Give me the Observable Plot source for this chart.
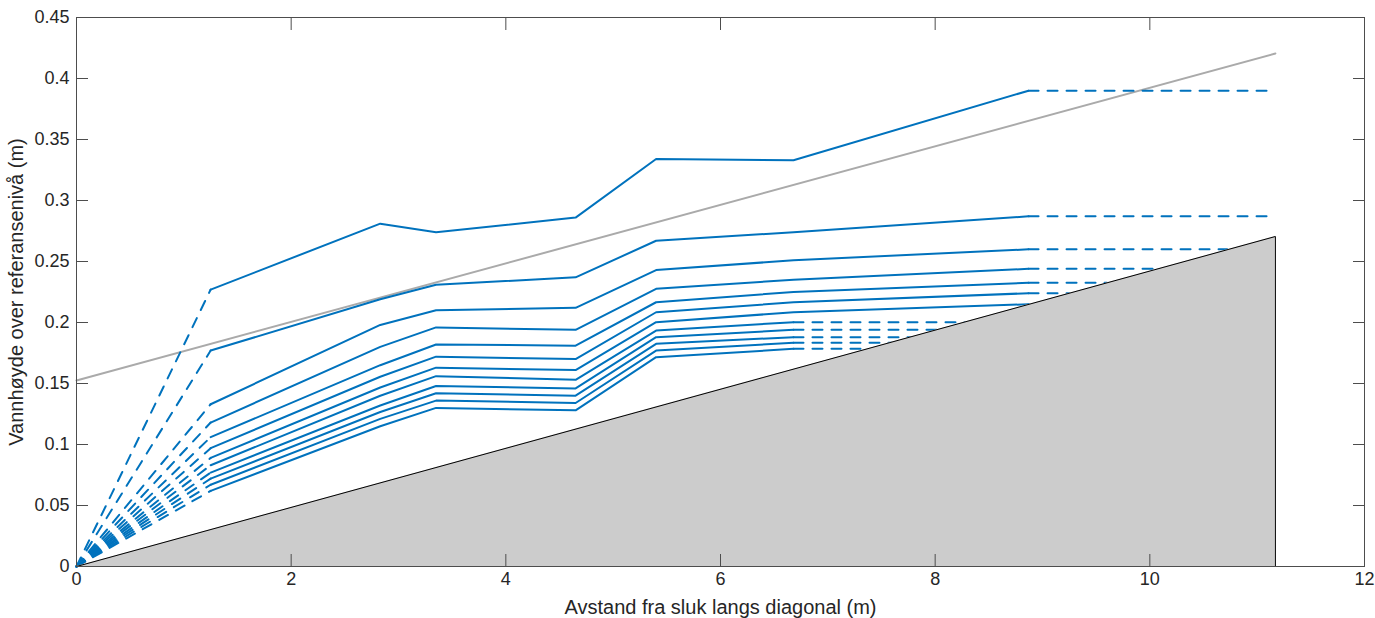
<!DOCTYPE html>
<html><head><meta charset="utf-8">
<script src="https://cdn.jsdelivr.net/npm/d3@7"></script>
<script src="https://cdn.jsdelivr.net/npm/@observablehq/plot@0.6"></script>
<style>html,body{margin:0;padding:0;background:#fff}svg{display:block}</style>
</head><body><div id="chart"></div>
<script>
// x positions of measurement nodes (m)
const xNodes = [1.25, 2.83, 3.35, 4.65, 5.4, 6.68, 8.87];
// water level series (m), values at xNodes
const s1  = [0.227, 0.281, 0.274, 0.286, 0.334, 0.333, 0.390];
const s2  = [0.177, 0.219, 0.231, 0.237, 0.267, 0.274, 0.287];
const s3  = [0.133, 0.198, 0.210, 0.212, 0.243, 0.251, 0.260];
const s4  = [0.118, 0.180, 0.196, 0.194, 0.2276, 0.235, 0.244];
const s5  = [0.106, 0.165, 0.182, 0.181, 0.2166, 0.225, 0.2325];
const s6  = [0.097, 0.1555, 0.172, 0.170, 0.2084, 0.2166, 0.224];
const s7  = [0.089, 0.1467, 0.163, 0.161, 0.2003, 0.2084, 0.215];
const s8  = [0.083, 0.140, 0.156, 0.153, 0.1934, 0.2003];
const s9  = [0.077, 0.132, 0.148, 0.146, 0.188, 0.194];
const s10 = [0.072, 0.1266, 0.142, 0.140, 0.1825, 0.188];
const s11 = [0.067, 0.121, 0.136, 0.134, 0.177, 0.1834];
const s12 = [0.062, 0.115, 0.130, 0.128, 0.1716, 0.1784];
const seriesList = [s1, s2, s3, s4, s5, s6, s7, s8, s9, s10, s11, s12];
// where each dashed (extrapolated) tail ends (m)
const tailEnd = [11.17, 11.17, 10.72, 10.1, 9.6, 9.25, 8.87, 8.28, 8.03, 7.8, 7.6, 7.38];
// origin (drain)
const originX = 0, originY = 0;
// ground (floor) profile
const groundX = [0, 11.17];
const groundY = [0, 0.2705];
// reference (grey) line
const refX = [0, 11.17];
const refY = [0.1525, 0.4205];
// ticks
const xTicks = [0, 2, 4, 6, 8, 10, 12];
const xTickLabels = ["0", "2", "4", "6", "8", "10", "12"];
const yTicks = [0, 0.05, 0.1, 0.15, 0.2, 0.25, 0.3, 0.35, 0.4, 0.45];
const yTickLabels = ["0", "0.05", "0.1", "0.15", "0.2", "0.25", "0.3", "0.35", "0.4", "0.45"];
const xLabel = "Avstand fra sluk langs diagonal (m)";
const yLabel = "Vannhøyde over referansenivå (m)";

const solid = [], dashed = [];
seriesList.forEach((s, i) => {
  s.forEach((v, j) => solid.push({id: i, x: xNodes[j], y: v}));
  dashed.push({id: "h" + i, x: originX, y: originY});
  dashed.push({id: "h" + i, x: xNodes[0], y: s[0]});
  const last = s.length - 1;
  dashed.push({id: "t" + i, x: xNodes[last], y: s[last]});
  dashed.push({id: "t" + i, x: tailEnd[i], y: s[last]});
});
const ground = groundX.map((x, i) => ({x, y: groundY[i]}));
const groundOutline = [...ground, {x: groundX[1], y: 0}];
const ref = refX.map((x, i) => ({x, y: refY[i]}));

const blue = "#0072BD";
const axisColor = "#4d4d4d";
const font = "'Liberation Sans', Arial, Helvetica, sans-serif";

const chart = Plot.plot({
  width: 1375, height: 618,
  marginLeft: 76, marginRight: 11, marginTop: 17, marginBottom: 52,
  style: {fontFamily: font, fontSize: "18px", color: "#262626", background: "#fff"},
  x: {domain: [0, 12], label: null},
  y: {domain: [0, 0.45], label: null},
  marks: [
    Plot.line(ref, {x: "x", y: "y", stroke: "#aaaaaa", strokeWidth: 2}),
    Plot.line(solid, {x: "x", y: "y", z: "id", stroke: blue, strokeWidth: 2}),
    Plot.line(dashed, {x: "x", y: "y", z: "id", stroke: blue, strokeWidth: 2, strokeDasharray: "10,9"}),
    Plot.areaY(ground, {x: "x", y: "y", fill: "#cccccc"}),
    Plot.line(groundOutline, {x: "x", y: "y", stroke: "#000", strokeWidth: 1}),
    Plot.frame({stroke: axisColor, strokeWidth: 1}),
    Plot.axisX(xTicks, {anchor: "bottom", tickSize: -12, tickPadding: 18, stroke: axisColor,
      tickFormat: d => xTickLabels[xTicks.indexOf(d)], label: null}),
    Plot.axisX(xTicks, {anchor: "top", tickSize: -12, stroke: axisColor, tickFormat: () => "", label: null}),
    Plot.axisY(yTicks, {anchor: "left", tickSize: -12, tickPadding: 19, stroke: axisColor,
      tickFormat: d => yTickLabels[yTicks.indexOf(d)], label: null}),
    Plot.axisY(yTicks, {anchor: "right", tickSize: -12, stroke: axisColor, tickFormat: () => "", label: null}),
    Plot.axisX({anchor: "bottom", ticks: [], tickSize: 0, label: xLabel, labelAnchor: "center",
      labelArrow: "none", labelOffset: 47, fontSize: 20}),
    Plot.axisY({anchor: "left", ticks: [], tickSize: 0, label: yLabel, labelAnchor: "center",
      labelArrow: "none", labelOffset: 68, fontSize: 20})
  ]
});
document.getElementById("chart").appendChild(chart);
</script>
</body></html>
